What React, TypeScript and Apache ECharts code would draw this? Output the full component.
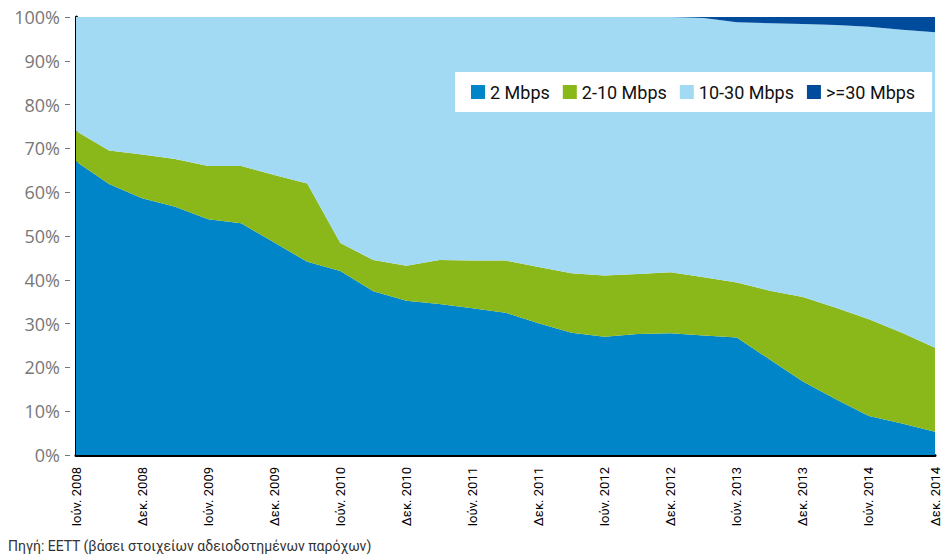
import React, { useEffect, useRef } from "react";
import * as echarts from "echarts";

const categories = [
  "Ιούν. 2008", "Σεπ. 2008", "Δεκ. 2008", "Μαρ. 2009", "Ιούν. 2009", "Σεπ. 2009", "Δεκ. 2009",
  "Μαρ. 2010", "Ιούν. 2010", "Σεπ. 2010", "Δεκ. 2010", "Μαρ. 2011", "Ιούν. 2011", "Σεπ. 2011",
  "Δεκ. 2011", "Μαρ. 2012", "Ιούν. 2012", "Σεπ. 2012", "Δεκ. 2012", "Μαρ. 2013", "Ιούν. 2013",
  "Σεπ. 2013", "Δεκ. 2013", "Μαρ. 2014", "Ιούν. 2014", "Σεπ. 2014", "Δεκ. 2014",
];

const seriesNames = ["2 Mbps", "2-10 Mbps", "10-30 Mbps", ">=30 Mbps"];

const mbps2 = [67.0, 61.9, 58.6, 56.7, 53.8, 52.9, 48.5, 44.1, 42.0, 37.4, 35.2, 34.5, 33.5, 32.5, 30.1, 27.9, 27.0, 27.6, 27.8, 27.3, 26.8, 21.8, 16.8, 12.7, 8.9, 7.2, 5.3];
const mbps2to10 = [7.0, 7.6, 10.0, 10.9, 12.2, 13.1, 15.4, 17.9, 6.4, 7.1, 8.0, 10.0, 10.9, 11.9, 12.8, 13.6, 14.0, 13.7, 13.9, 13.3, 12.6, 15.7, 19.3, 20.9, 22.1, 20.7, 19.2];
const mbps10to30 = [26.0, 30.5, 31.4, 32.4, 34.0, 34.0, 36.1, 38.0, 51.6, 55.5, 56.8, 55.5, 55.6, 55.6, 57.1, 58.5, 59.0, 58.7, 58.3, 59.2, 59.4, 61.1, 62.3, 64.6, 66.8, 69.2, 72.0];
const mbps30plus = [0, 0, 0, 0, 0, 0, 0, 0, 0, 0, 0, 0, 0, 0, 0, 0, 0, 0, 0, 0.2, 1.2, 1.4, 1.6, 1.8, 2.2, 2.9, 3.5];

const colors = ["#0086C8", "#8AB81A", "#A2DAF3", "#004B9B"];
const sourceText = "Πηγή: ΕΕΤΤ (βάσει στοιχείων αδειοδοτημένων παρόχων)";

const narrow = "Roboto, 'Noto Sans', sans-serif";

export default function App() {
  const ref = useRef<HTMLDivElement>(null);
  useEffect(() => {
    if (!ref.current) return;
    const chart = echarts.init(ref.current, null, { renderer: "svg" });
    const data = [mbps2, mbps2to10, mbps10to30, mbps30plus];
    chart.setOption({
      animation: false,
      color: colors,
      grid: { left: 76, right: 16, top: 17, bottom: 101, containLabel: false },
      legend: {
        data: seriesNames,
        left: 455,
        top: 72,
        width: 490,
        orient: "horizontal",
        backgroundColor: "#ffffff",
        padding: [11, 17, 11, 16],
        itemWidth: 14,
        itemHeight: 14,
        itemGap: 13,
        icon: "rect",
        textStyle: { fontFamily: narrow, fontSize: 18, color: "#111" },
      },
      xAxis: {
        type: "category",
        boundaryGap: false,
        data: categories,
        axisLine: { show: true, lineStyle: { color: "#000", width: 3 } },
        axisTick: { show: false },
        axisLabel: {
          interval: 1,
          rotate: 90,
          margin: 12,
          color: "#000",
          fontSize: 13,
          fontFamily: narrow,
        },
        splitLine: { show: false },
      },
      yAxis: [
        {
          type: "value",
          min: 0,
          max: 100,
          interval: 10,
          position: "left",
          offset: 6,
          axisLine: { show: false },
          axisTick: { show: true, length: 5, lineStyle: { color: "#777", width: 1 } },
          axisLabel: {
            formatter: "{value}%",
            color: "#777",
            fontSize: 18,
            fontFamily: "'Open Sans', sans-serif",
            margin: 10,
          },
          splitLine: { show: false },
        },
        {
          type: "value",
          min: 0,
          max: 100,
          interval: 10,
          position: "left",
          offset: 0,
          axisLine: { show: true, lineStyle: { color: "#000", width: 3 } },
          axisTick: { show: false },
          axisLabel: { show: false },
          splitLine: { show: false },
        },
      ],
      series: seriesNames.map((name, i) => ({
        name,
        type: "line",
        stack: "total",
        yAxisIndex: 0,
        data: data[i],
        symbol: "none",
        lineStyle: { width: 0 },
        areaStyle: { color: colors[i], opacity: 1 },
        itemStyle: { color: colors[i] },
      })),
      graphic: [
        {
          type: "text",
          left: 8,
          top: 539,
          style: { text: sourceText, fill: "#333", fontSize: 14, fontFamily: narrow },
        },
      ],
    });
    return () => chart.dispose();
  }, []);
  return (
    <div
      ref={ref}
      style={{ position: "absolute", left: 0, top: 0, width: 951, height: 556 }}
    />
  );
}
